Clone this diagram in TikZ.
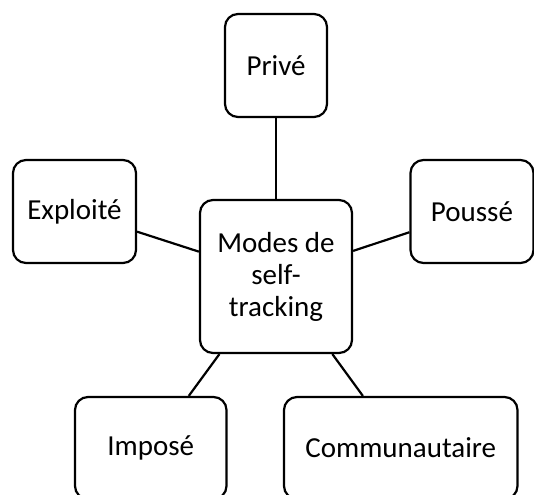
\documentclass[tikz,border=0pt]{standalone}
\usepackage{fontspec}
\setmainfont{Carlito}
\begin{document}
\begin{tikzpicture}[x=1pt,y=-1pt,
  box/.style={draw, line width=2.2pt, rounded corners=13pt, align=center,
    inner sep=0pt, font=\fontsize{29}{32}\selectfont},
  link/.style={line width=2.2pt}]
\useasboundingbox (0,0) rectangle (534,494);
\node[box, minimum width=102pt, minimum height=103pt] (prive) at (276,65.5) {Privé};
\node[box, minimum width=123pt, minimum height=103pt] (exploite) at (74.5,211.5) {Exploité};
\node[box, minimum width=123pt, minimum height=103pt] (pousse) at (472,211.5) {Poussé};
\node[box, minimum width=152pt, minimum height=153pt] (center) at (276,276.5) {Modes de\\self-\\tracking};
\node[box, minimum width=151.5pt, minimum height=102pt] (impose) at (150.75,448) {Imposé};
\node[box, minimum width=233.5pt, minimum height=102pt] (commu) at (400.75,448) {Communautaire};
\draw[link] (center) -- (prive);
\draw[link] (center) -- (exploite);
\draw[link] (center) -- (pousse);
\draw[link] (center) -- (impose);
\draw[link] (center) -- (commu);
\end{tikzpicture}
\end{document}
